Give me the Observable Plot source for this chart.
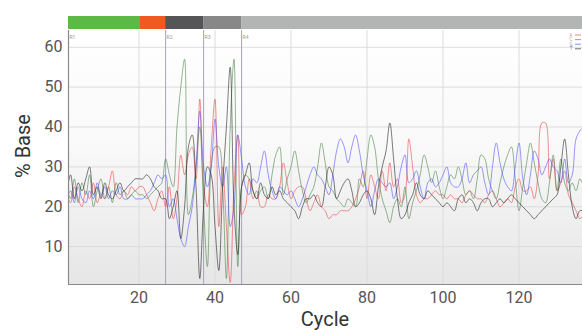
<!DOCTYPE html>
<html><head><meta charset="utf-8">
<script src="https://cdn.jsdelivr.net/npm/d3@7"></script>
<script src="https://cdn.jsdelivr.net/npm/@observablehq/plot@0.6"></script>
<style>
body{margin:0;background:#fff;font-family:Roboto,"DejaVu Sans",sans-serif;}
#chart{position:relative;width:582px;height:330px;overflow:hidden}
.ttl{position:absolute;color:#333;font-size:20px;white-space:nowrap;}
</style></head><body><div id="chart"></div>
<script>
const bases = ["A","C","G","T"];
const baseColors = ["rgba(235,80,80,0.7)","rgba(70,130,70,0.65)","rgba(80,80,255,0.65)","rgba(45,45,45,0.7)"];
const valuesA = [23,21,25,22,20,24,22,26,21,23, 22,25,29,23,22,24,23,25,24,25, 25,23,21,19,22,24,20,25,17,22,
 33,28,33,35,27,47,25,20,35,47, 15,30,15,1,25,38,18,20,27,22, 24,20,20,23,22,22,25,31,26,22,
 24,25,25,22,19,21,23,20,19,17, 18,18,19,19,19,20,22,25,29,22, 28,25,22,29,24,31,25,27,21,23,
 37,30,23,21,22,22,23,24,23,23, 22,23,22,22,21,23, 24,23,22,22,21,23,24,22,20,21,
 22,21,25,27,24,24,25,22,28,41, 41,27,32,24,26,29,23,21,19,17, 18];
const valuesC = [25,22,27,21,26,23,28,20,24,27, 22,25,21,26,23,24,22,23,24,23, 23,22,23,24,25,26,32,28,25,40,
 50,57,18,22,30,40,20,5,30,35, 35,25,2,40,57,5,25,28,27,24, 22,24,25,22,28,33,35,23,27,30,
 34,29,24,21,23,25,30,36,31,25, 24,22,21,20,22,21,20,27,25,32, 38,35,27,22,19,16,20,22,20,25,
 17,21,24,28,33,30,26,29,25,22, 25,28,27,30,27,23,24,22,27,33, 32,27,24,22,26,30,33,35,27,19,
 25,31,36,31,26,22,21,26,33,24, 32,26,24,26,24,27,25];
const valuesG = [22,24,21,25,22,21,24,22,26,23, 25,22,24,23,25,22,22,23,22,22, 22,23,24,26,28,27,28,20,22,17,
 12,10,15,20,30,44,30,25,30,42, 30,25,30,15,20,38,32,25,23,27, 26,30,34,28,24,22,25,24,23,24,
 22,20,22,25,28,30,28,27,25,23, 28,34,37,35,31,35,38,34,28,24, 20,24,27,26,25,26,22,25,30,33,
 26,27,29,25,22,26,27,25,26,28, 30,26,25,25,27,31,26,28,29,30, 26,23,30,36,31,27,25,24,30,36,
 27,23,28,34,32,28,30,32,30,29, 26,32,26,28,37,39,40];
const valuesT = [24,28,22,26,24,27,30,23,25,22, 26,23,22,24,26,24,25,26,27,27, 27,28,27,25,24,22,22,17,20,24,
 12,20,35,38,25,2,20,30,28,15, 4,25,40,55,20,8,25,28,31,24, 22,26,23,22,25,23,24,22,21,20,
 19,17,20,22,22,23,21,20,25,30, 28,22,24,26,27,24,20,21,23,24, 22,18,25,30,34,41,32,22,17,18,
 21,23,26,23,22,24,23,22,21,20, 21,20,19,22,23,21,22,21,19,21, 22,22,20,21,22,21,22,23,22,21,
 20,19,18,17,18,19,20,21,22,23, 30,37,28,20,17,19,19];
const segStart = [1.45, 20.4, 27, 37, 47];
const segEnd = [20.4, 27, 37, 47, 136.7];
const segColors = ["#5cb946","#f05a22","#555558","#888888","#b3b5b5"];
const readStarts = [1.45, 27, 37, 47];
const readLabels = ["R1","R2","R3","R4"];
const xTicks = [20,40,60,80,100,120];
const yTicks = [10,20,30,40,50,60];
const xDomain = [1.45, 136.7];
const yDomain = [0.5, 64.2];

const seriesValues = [valuesA, valuesC, valuesG, valuesT];
const data = [];
bases.forEach((b, k) => seriesValues[k].forEach((v, i) => data.push({cycle: i + 1, base: b, value: v})));
const segs = segStart.map((s, i) => ({start: s, end: segEnd[i], color: segColors[i]}));
const reads = readStarts.map((c, i) => ({cycle: c, label: readLabels[i]}));

const chart = document.getElementById("chart");

const bar = Plot.plot({
  width: 582, height: 30, marginTop: 16, marginBottom: 1, marginLeft: 68, marginRight: 0,
  x: {domain: xDomain, axis: null}, y: {axis: null},
  color: {type: "identity"},
  marks: [Plot.rect(segs, {x1: "start", x2: "end", fill: "color"})]
});
bar.style.display = "block";
chart.appendChild(bar);

const main = Plot.plot({
  width: 582, height: 300, marginTop: 0, marginBottom: 46, marginLeft: 68, marginRight: 0,
  style: {fontFamily: "Roboto, sans-serif", fontSize: "16px", color: "#555", overflow: "visible"},
  x: {domain: xDomain},
  y: {domain: yDomain},
  color: {domain: bases, range: baseColors},
  marks: [
    Plot.frame({fill: "url(#bgGrad)", stroke: null}),
    Plot.gridY(yTicks, {stroke: "#dcdcdc", strokeOpacity: 1}),
    Plot.gridX(xTicks, {stroke: "#dcdcdc", strokeOpacity: 1}),
    Plot.ruleX(reads, {x: "cycle", stroke: "#aaa2b8", strokeWidth: 1}),
    Plot.text(reads, {x: "cycle", text: "label", frameAnchor: "top", dy: 5, dx: 1, textAnchor: "start", fontSize: 5, fill: "#999"}),
    Plot.line(data, {x: "cycle", y: "value", z: "base", stroke: "base", strokeWidth: 0.9, curve: "catmull-rom", clip: true}),
    Plot.ruleX([xDomain[0]], {stroke: "#8a8a8a", strokeWidth: 1.2}),
    Plot.ruleY([yDomain[0]], {stroke: "#8a8a8a", strokeWidth: 1.2}),
    Plot.axisY(yTicks, {tickSize: 0, tickPadding: 6, label: null, fill: "#555"}),
    Plot.axisX(xTicks, {tickSize: 0, tickPadding: 7, label: null, fill: "#555"})
  ]
});
main.style.display = "block";
chart.appendChild(main);

const svg = d3.select(main);
const defs = svg.insert("defs", ":first-child");
const grad = defs.append("linearGradient").attr("id", "bgGrad").attr("x1", 0).attr("y1", 0).attr("x2", 0).attr("y2", 1);
grad.append("stop").attr("offset", "0%").attr("stop-color", "#ffffff");
grad.append("stop").attr("offset", "45%").attr("stop-color", "#f9f9f9");
grad.append("stop").attr("offset", "100%").attr("stop-color", "#e6e6e6");

// tiny legend at top-right
const lg = svg.append("g").attr("font-size", 4.5).attr("font-family", "Roboto, sans-serif");
bases.forEach((b, i) => {
  const yy = 5 + i * 4.6;
  lg.append("text").attr("x", 571).attr("y", yy + 1.5).attr("fill", baseColors[i]).text(b);
  lg.append("line").attr("x1", 575).attr("x2", 581).attr("y1", yy).attr("y2", yy).attr("stroke", baseColors[i]).attr("stroke-width", 1);
});

const yl = document.createElement("div");
yl.className = "ttl"; yl.textContent = "% Base";
yl.style.left = "23px"; yl.style.top = "146px";
yl.style.transform = "translate(-50%,-50%) rotate(-90deg)";
chart.appendChild(yl);
const xl = document.createElement("div");
xl.className = "ttl"; xl.textContent = "Cycle";
xl.style.left = "325px"; xl.style.top = "319px";
xl.style.transform = "translate(-50%,-50%)";
chart.appendChild(xl);
</script></body></html>
